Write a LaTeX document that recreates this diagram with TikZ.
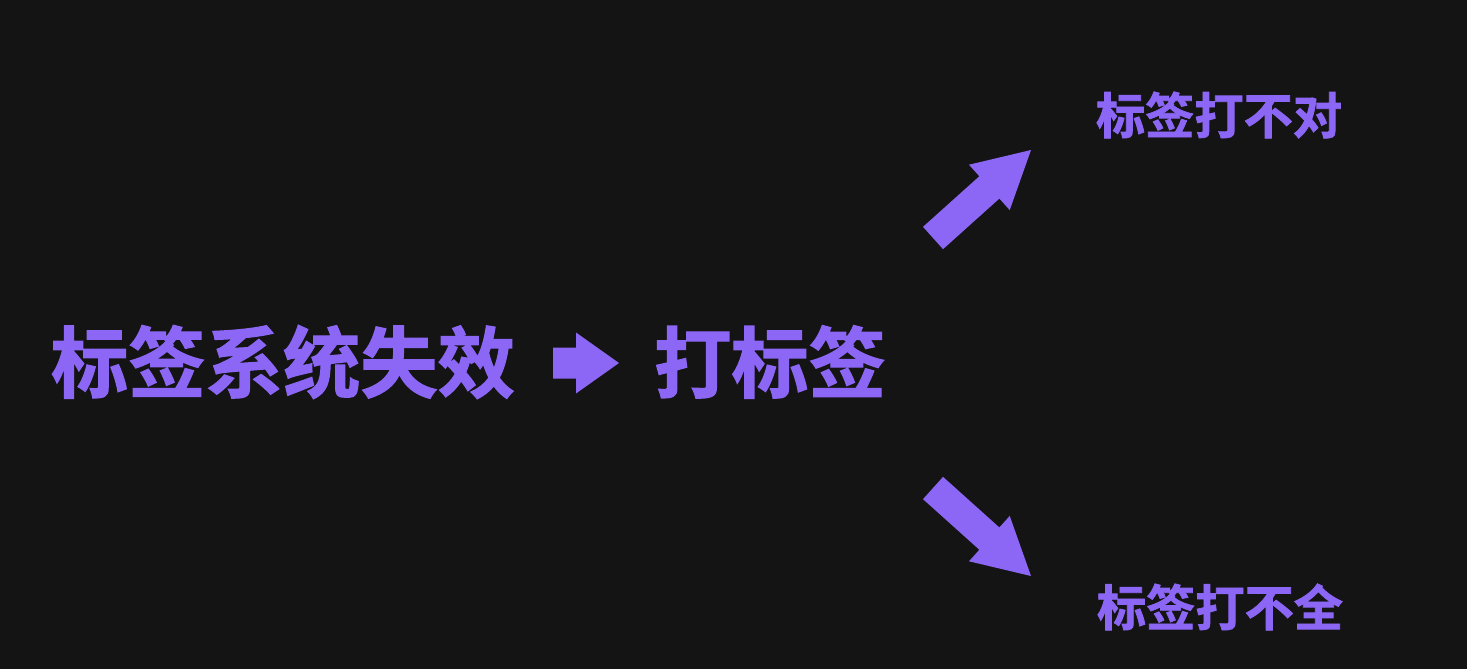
\documentclass[tikz,border=0pt]{standalone}
\usepackage{fontspec}
\newfontfamily\cjk{Noto Sans CJK SC Bold}[FakeBold=1.5]
\usepackage{tikz}
\usetikzlibrary{calc, positioning}
\definecolor{bgDark}{HTML}{141414}
\definecolor{accent}{HTML}{8C66F5}
% block arrow: tail, tip, half body width, head length, half head width
\newcommand{\blockarrow}[5]{%
  \coordinate (neck) at ($(#2)!#4!(#1)$);
  \fill[accent] ($(#1)!#3!90:(#2)$) -- ($(neck)!#3!90:(#2)$) -- ($(neck)!#5!90:(#2)$)
    -- (#2) -- ($(neck)!#5!-90:(#2)$) -- ($(neck)!#3!-90:(#2)$) -- ($(#1)!#3!-90:(#2)$) -- cycle;
}

\begin{document}
\begin{tikzpicture}[
  mainlabel/.style={inner sep=0pt, text=accent, font=\cjk\fontsize{22pt}{26pt}\selectfont},
  sublabel/.style={inner sep=0pt, text=accent, font=\cjk\fontsize{14pt}{17pt}\selectfont},
]
  \fill[bgDark] (0,0) rectangle (14.67,6.69);
  \useasboundingbox (0,0) rectangle (14.67,6.69);

  \node[mainlabel] (fail) at (2.83,3.07) {标签系统失效};
  \node[mainlabel] (tag) at (7.70,3.07) {打标签};
  \node[sublabel] (wrong) at (12.19,5.54) {标签打不对};
  \node[sublabel] (miss) at (12.20,0.62) {标签打不全};

  \coordinate (s1) at (5.53,3.06);
  \coordinate (e1) at (6.19,3.06);
  \coordinate (s2) at (9.33,4.31);
  \coordinate (e2) at (10.31,5.19);
  \coordinate (s3) at (9.33,1.81);
  \coordinate (e3) at (10.31,0.93);

  \blockarrow{s1}{e1}{0.155cm}{0.43cm}{0.305cm}
  \blockarrow{s2}{e2}{0.15cm}{0.56cm}{0.305cm}
  \blockarrow{s3}{e3}{0.15cm}{0.56cm}{0.305cm}
\end{tikzpicture}
\end{document}
